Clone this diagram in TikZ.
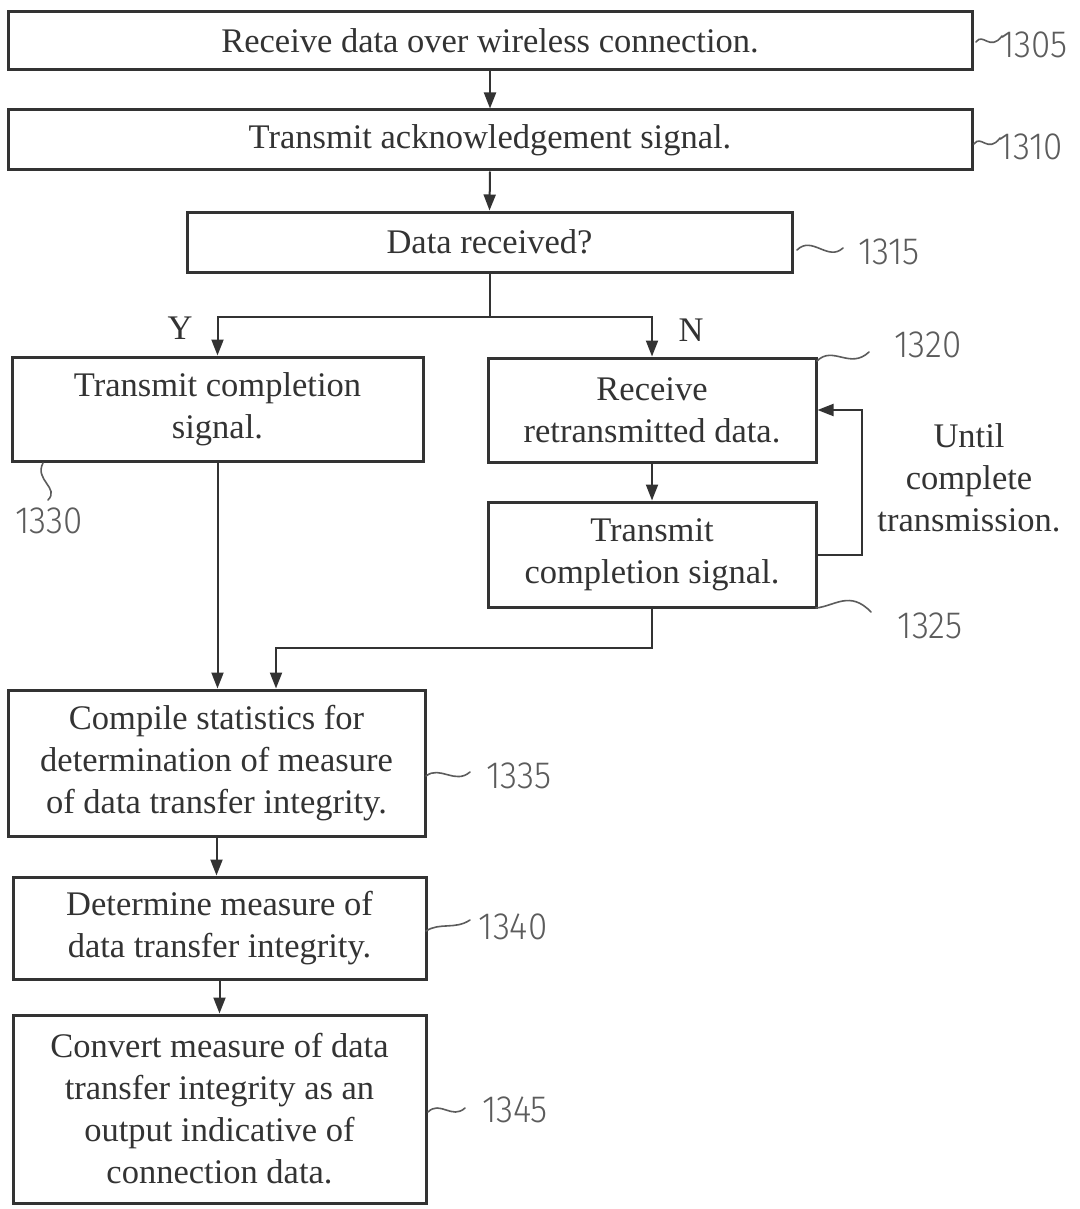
\documentclass[tikz,border=0pt]{standalone}
\usepackage{fontspec}
\setmainfont{Liberation Serif}
\newfontfamily\hand{Fira Sans Light}
\usetikzlibrary{arrows.meta}
\definecolor{ink}{gray}{0.2}
\definecolor{pencil}{gray}{0.36}
\begin{document}
\begin{tikzpicture}[x=1pt,y=-1pt,
  stepbox/.style={draw=ink,line width=3pt,rectangle,inner sep=0pt,align=center,
    font=\fontsize{34.5}{42}\selectfont,text=ink},
  arr/.style={draw=ink,line width=2pt,-{Triangle[width=12pt,length=16pt]}},
  link/.style={draw=ink,line width=2pt},
  lbl/.style={font=\fontsize{34.5}{42}\selectfont,text=ink},
  refnum/.style={font=\hand\fontsize{38}{38}\selectfont,text=pencil,inner sep=0pt,xscale=0.92},
  lead/.style={draw=pencil,line width=1.6pt,line cap=round}]
\useasboundingbox (0,0) rectangle (1079,1209);
\fill[white] (0,0) rectangle (1079,1209);

% process steps
\node[stepbox,minimum width=964pt,minimum height=58pt] (b1305) at (490,41)
  {Receive data over wireless connection.};
\node[stepbox,minimum width=964pt,minimum height=60pt] (b1310) at (490,140)
  {Transmit acknowledgement signal.};
\node[stepbox,minimum width=605pt,minimum height=60pt] (b1315) at (489.5,242)
  {Data received?};
\node[stepbox,minimum width=411pt,minimum height=104pt] (b1330) at (217.5,409)
  {Transmit completion\\signal.};
\node[stepbox,minimum width=328pt,minimum height=104pt] (b1320) at (652,410)
  {Receive\\retransmitted data.};
\node[stepbox,minimum width=328pt,minimum height=105pt] (b1325) at (652,554.5)
  {Transmit\\completion signal.};
\node[stepbox,minimum width=417pt,minimum height=146pt] (b1335) at (216.5,763)
  {Compile statistics for\\determination of measure\\of data transfer integrity.};
\node[stepbox,minimum width=413pt,minimum height=102pt] (b1340) at (219.5,928)
  {Determine measure of\\data transfer integrity.};
\node[stepbox,minimum width=413pt,minimum height=188pt] (b1345) at (219.5,1109)
  {Convert measure of data\\transfer integrity as an\\output indicative of\\connection data.};

% branch labels and loop note
\node[lbl] (ylab) at (180,328) {Y};
\node[lbl] (nlab) at (691,330) {N};
\node[lbl,align=center] (until) at (969,478)
  {Until\\complete\\transmission.};

% connectors
\draw[arr] (b1305.south) -- (b1310.north);
\draw[arr] (b1310.south) -- (b1315.north);
\draw[link] (b1315.south) -- ++(0,43) coordinate (split);
\draw[arr] (split) -| (b1330.north);
\draw[arr] (split) -| (b1320.north);
\draw[arr] (b1320.south) -- (b1325.north);
\draw[arr] (b1325.east) -- ++(44,0) |- (b1320.east);
\draw[arr] (b1330.south) -- (b1330.south |- b1335.north);
\draw[arr] (b1325.south) -- ++(0,39) -| ([xshift=59.5pt]b1335.north);
\draw[arr] (b1335.south) -- (b1335.south |- b1340.north);
\draw[arr] (b1340.south) -- (b1345.north);

% reference numerals with their leaders
\node[refnum] (n1305) at (1034,45) {1305};
\draw[lead] (976,42) .. controls (983,32) and (990,52) .. (1002,36);
\node[refnum] (n1310) at (1031,147) {1310};
\draw[lead] (974,144) .. controls (981,134) and (988,154) .. (1000,138);
\node[refnum] (n1315) at (889,252) {1315};
\draw[lead] (797,250) .. controls (812,235) and (828,262) .. (843,248);
\node[refnum] (n1320) at (928,345) {1320};
\draw[lead] (817,361) .. controls (833,345) and (850,370) .. (869,352);
\node[refnum] (n1330) at (49,521) {1330};
\draw[lead] (43,463) .. controls (34,480) and (60,488) .. (48,500);
\node[refnum] (n1325) at (930,626) {1325};
\draw[lead] (816,608) .. controls (835,606) and (850,590) .. (871,612);
\node[refnum] (n1335) at (519,776) {1335};
\draw[lead] (426,776) .. controls (440,765) and (455,785) .. (470,772);
\node[refnum] (n1340) at (513,927) {1340};
\draw[lead] (426,931) .. controls (440,922) and (455,930) .. (470,920);
\node[refnum] (n1345) at (515,1110) {1345};
\draw[lead] (428,1112) .. controls (440,1100) and (452,1120) .. (465,1108);
\end{tikzpicture}
\end{document}
